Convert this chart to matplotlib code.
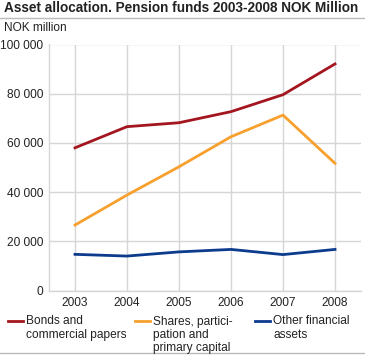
import matplotlib
matplotlib.use("Agg")
import matplotlib.pyplot as plt
from matplotlib.lines import Line2D

plt.rcParams['font.family'] = ['Liberation Sans', 'DejaVu Sans']

years = ["2003", "2004", "2005", "2006", "2007", "2008"]
bonds = [58000, 66600, 68200, 72700, 79600, 92100]
shares = [26600, 38800, 50300, 62500, 71300, 51700]
other = [14700, 14000, 15700, 16700, 14600, 16700]

labels = ["Bonds and\ncommercial papers",
          "Shares, partici-\npation and\nprimary capital",
          "Other financial\nassets"]
colors = ["#a3151f", "#f7a02e", "#0c3b8e"]
grid_col = "#d6d6d6"

fig = plt.figure(figsize=(3.65, 3.55), dpi=100)
ax = fig.add_axes([49/365, 1 - 290.5/355, 312/365, 246/355])

x = range(len(years))
for vals, col in zip([bonds, shares, other], colors):
    ax.plot(x, vals, color=col, lw=2, solid_joinstyle='round', zorder=3)

ax.set_xlim(-0.5, len(years) - 0.5)
ax.set_ylim(0, 100000)
ax.set_yticks(range(0, 100001, 20000))
ax.set_yticklabels(["0" if v == 0 else f"{v:,}".replace(",", " ") for v in range(0, 100001, 20000)])
ax.set_xticks(list(x))
ax.set_xticklabels(years)
ax.tick_params(length=0, labelsize=8.6, colors="#222222", pad=4)
ax.tick_params(axis='x', pad=5)
ax.grid(True, color=grid_col, lw=1)
ax.set_axisbelow(True)
for s in ["top", "right"]:
    ax.spines[s].set_visible(False)
for s in ["left", "bottom"]:
    ax.spines[s].set_color(grid_col)
    ax.spines[s].set_linewidth(1)

# title, unit and rules
fig.text(4/365, 1 - 8.5/355, "Asset allocation. Pension funds 2003-2008 NOK Million",
         fontsize=9.8, fontweight='bold', va='center', ha='left', color="#222222")
fig.add_artist(Line2D([0, 1], [1 - 18/355] * 2, color="#bbbbbb", lw=1))
fig.text(4/365, 1 - 28/355, "NOK million", fontsize=8.6, va='center', ha='left', color="#222222")
fig.add_artist(Line2D([0, 1], [1 - 352.5/355] * 2, color="#bbbbbb", lw=1))

# legend
hx = [8, 135, 255]
for lx, lab, col in zip(hx, labels, colors):
    fig.add_artist(Line2D([lx/365, (lx + 15)/365], [1 - 321/355] * 2, color=col, lw=2))
    fig.text((lx + 18)/365, 1 - 315.5/355, lab, fontsize=8.6, va='top', ha='left',
             linespacing=1.12, color="#222222")

fig.savefig("out.png", dpi=100)
